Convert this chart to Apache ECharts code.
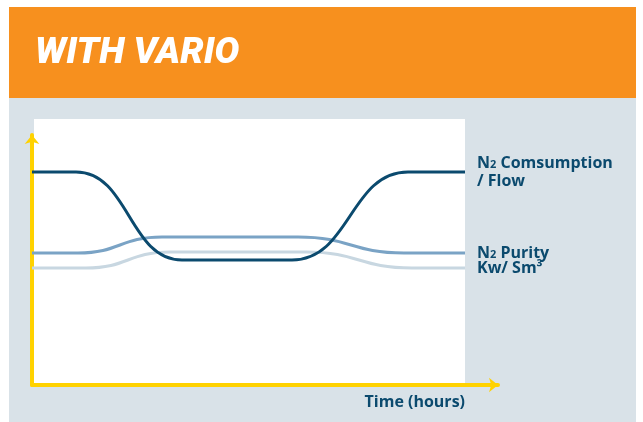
<!DOCTYPE html>
<html>
<head>
<meta charset="utf-8">
<script src="https://cdn.jsdelivr.net/npm/echarts@6/dist/echarts.min.js"></script>
<style>
html,body{margin:0;padding:0;background:#ffffff;}
#chart{width:643px;height:422px;}
</style>
</head>
<body>
<div id="chart"></div>
<script>
// Time axis positions (arbitrary units) and values
var consumptionX = [0, 44, 150, 260, 376, 433];
var consumptionY = [213, 213, 125, 125, 213, 213];
var purityX = [0, 46, 130, 266, 372, 433];
var purityY = [132, 132, 148, 148, 132, 132];
var powerX = [0, 54, 138, 274, 380, 433];
var powerY = [117, 117, 133, 133, 117, 117];

var titleText = 'WITH VARIO';
var consumptionLabel = ['N{s|2} Comsumption', '/ Flow'];
var purityLabel = 'N{s|2} Purity';
var powerLabel = 'Kw/ Sm³';
var xAxisLabel = 'Time (hours)';

function pairs(xs, ys){ return xs.map(function(x,i){ return [x, ys[i]]; }); }

var dark = '#0b4a6e';
var labelFont = { fontFamily: 'Open Sans', fontWeight: 'bold', fontSize: 16, color: dark, lineHeight: 18,
  rich: { s: { fontFamily: 'Open Sans', fontWeight: 'bold', fontSize: 11, color: dark, lineHeight: 18, padding: [3, 0, 0, 0] } } };

var chart = echarts.init(document.getElementById('chart'), null, {renderer: 'canvas'});
chart.setOption({
  animation: false,
  backgroundColor: '#ffffff',
  title: {
    text: titleText, left: 30, top: 30,
    textStyle: { color: '#ffffff', fontFamily: 'Roboto', fontStyle: 'italic', fontWeight: 900, fontSize: 37 }
  },
  graphic: [
    { type: 'rect', z: -1, shape: { x: 9, y: 7, width: 627, height: 91 }, style: { fill: '#f7901e' } },
    { type: 'rect', z: -1, shape: { x: 9, y: 98, width: 627, height: 324 }, style: { fill: '#d9e2e8' } },
    { type: 'rect', z: -1, shape: { x: 34, y: 119, width: 431, height: 264 }, style: { fill: '#ffffff' } },
    { type: 'text', z: 5, style: { x: 465, y: 402, text: xAxisLabel, textAlign: 'right', textVerticalAlign: 'middle',
      fontFamily: 'Open Sans', fontWeight: 'bold', fontSize: 16, fill: dark } }
  ],
  grid: { left: 32, top: 135, right: 145, bottom: 37, containLabel: false },
  xAxis: {
    type: 'value', min: 0, max: 466,
    axisLine: { show: true, lineStyle: { color: '#ffd200', width: 4 }, symbol: ['none', 'arrow'], symbolSize: [11, 9] },
    axisTick: { show: false }, axisLabel: { show: false }, splitLine: { show: false }
  },
  yAxis: {
    type: 'value', min: 0, max: 250,
    axisLine: { show: true, lineStyle: { color: '#ffd200', width: 4 }, symbol: ['none', 'arrow'], symbolSize: [11, 9] },
    axisTick: { show: false }, axisLabel: { show: false }, splitLine: { show: false }
  },
  series: [
    { type: 'line', name: 'power', data: pairs(powerX, powerY), smooth: 0.5, smoothMonotone: 'x', showSymbol: false,
      lineStyle: { color: '#c8d7e1', width: 3 }, z: 2,
      endLabel: { show: true, formatter: powerLabel, distance: 12, ...labelFont } },
    { type: 'line', name: 'purity', data: pairs(purityX, purityY), smooth: 0.5, smoothMonotone: 'x', showSymbol: false,
      lineStyle: { color: '#7aa3c5', width: 3 }, z: 3,
      endLabel: { show: true, formatter: purityLabel, distance: 12, ...labelFont } },
    { type: 'line', name: 'consumption', data: pairs(consumptionX, consumptionY), smooth: 0.5, smoothMonotone: 'x', showSymbol: false,
      lineStyle: { color: dark, width: 3 }, z: 4,
      endLabel: { show: true, formatter: consumptionLabel.join('\n'), distance: 12, ...labelFont } }
  ]
});
</script>
</body>
</html>
